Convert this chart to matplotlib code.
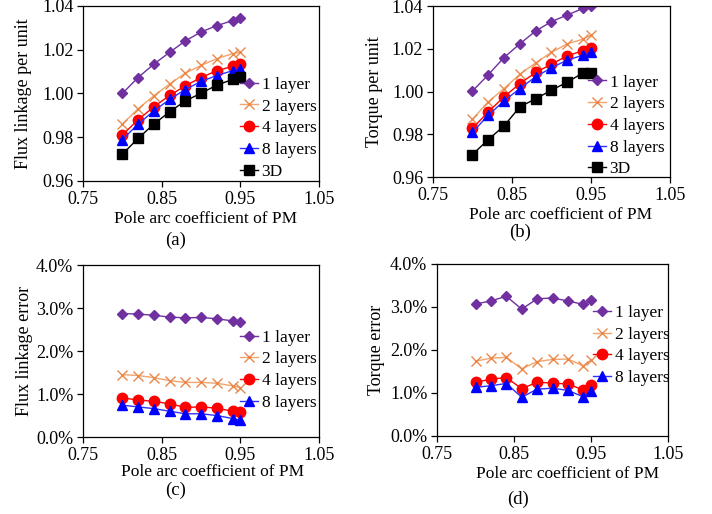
import matplotlib
matplotlib.use("Agg")
import matplotlib.pyplot as plt
from matplotlib.ticker import FuncFormatter

plt.rcParams['font.family'] = ['Liberation Serif', 'DejaVu Serif']
plt.rcParams['font.size'] = 12.5

# pole arc coefficient
x = [0.80, 0.82, 0.84, 0.86, 0.88, 0.90, 0.92, 0.94, 0.95]

# (a) flux linkage per unit
flux_1 = [1.0000, 1.0073, 1.0134, 1.0188, 1.0240, 1.0281, 1.0310, 1.0333, 1.0345]
flux_2 = [0.9860, 0.9930, 0.9989, 1.0043, 1.0093, 1.0128, 1.0159, 1.0182, 1.0188]
flux_4 = [0.9810, 0.9880, 0.9939, 0.9991, 1.0035, 1.0073, 1.0104, 1.0124, 1.0133]
flux_8 = [0.9789, 0.9860, 0.9920, 0.9973, 1.0018, 1.0055, 1.0082, 1.0104, 1.0111]
flux_3d = [0.9722, 0.9795, 0.9860, 0.9916, 0.9966, 1.0001, 1.0038, 1.0064, 1.0075]

# (b) torque per unit
torq_1 = [1.0002, 1.0078, 1.0159, 1.0223, 1.0283, 1.0327, 1.0358, 1.0389, 1.0400]
torq_2 = [0.9870, 0.9952, 1.0014, 1.0081, 1.0134, 1.0183, 1.0223, 1.0245, 1.0264]
torq_4 = [0.9827, 0.9905, 0.9975, 1.0037, 1.0089, 1.0128, 1.0167, 1.0191, 1.0202]
torq_8 = [0.9809, 0.9889, 0.9956, 1.0014, 1.0069, 1.0111, 1.0147, 1.0170, 1.0183]
torq_3d = [0.9705, 0.9775, 0.9839, 0.9928, 0.9966, 1.0006, 1.0044, 1.0087, 1.0087]

# (c) flux linkage error (%)
ferr_1 = [2.87, 2.86, 2.83, 2.79, 2.77, 2.78, 2.75, 2.70, 2.68]
ferr_2 = [1.45, 1.43, 1.38, 1.31, 1.27, 1.27, 1.25, 1.19, 1.15]
ferr_4 = [0.91, 0.86, 0.83, 0.77, 0.69, 0.70, 0.67, 0.60, 0.57]
ferr_8 = [0.74, 0.70, 0.66, 0.60, 0.54, 0.54, 0.50, 0.43, 0.39]

# (d) torque error (%)
terr_1 = [3.07, 3.14, 3.25, 2.95, 3.19, 3.21, 3.14, 3.06, 3.17]
terr_2 = [1.74, 1.81, 1.83, 1.56, 1.73, 1.78, 1.79, 1.63, 1.77]
terr_4 = [1.25, 1.32, 1.36, 1.10, 1.25, 1.23, 1.21, 1.07, 1.18]
terr_8 = [1.13, 1.17, 1.22, 0.90, 1.09, 1.11, 1.06, 0.91, 1.04]

labels = ['1 layer', '2 layers', '4 layers', '8 layers', '3D']
styles = [
    dict(color='#7030A0', marker='D', ms=5, mfc='#7030A0', mec='#7030A0'),
    dict(color='#F4A46C', marker='x', ms=7, mew=1.0, mec='#E8884A'),
    dict(color='#FF0000', marker='o', ms=7.5, mfc='#FF0000', mec='#FF0000'),
    dict(color='#3030FF', marker='^', ms=7, mfc='#0000FF', mec='#0000FF'),
    dict(color='#000000', marker='s', ms=7, mfc='#000000', mec='#000000'),
]

fig = plt.figure(figsize=(7.12, 5.14), dpi=100)
axa = fig.add_axes([0.1166, 0.6479, 0.3315, 0.3405])
axb = fig.add_axes([0.608, 0.6556, 0.333, 0.3327])
axc = fig.add_axes([0.1166, 0.1498, 0.3315, 0.3346])
axd = fig.add_axes([0.6138, 0.1518, 0.3244, 0.3346])

pct = FuncFormatter(lambda v, p: '%.1f%%' % v)

# ax, series, ylabel, ylim, step, caption, caption pos, xlabel pos, ylabel x, legend anchor
panels = [
    (axa, [flux_1, flux_2, flux_4, flux_8, flux_3d], 'Flux linkage per unit', (0.96, 1.04), 0.02,
     '(a)', (0.246, 0.533), (0.52, -0.215), -0.254, (0.665, 0.596)),
    (axb, [torq_1, torq_2, torq_4, torq_8, torq_3d], 'Torque per unit', (0.96, 1.04), 0.02,
     '(b)', (0.730, 0.547), (0.54, -0.225), -0.245, (0.654, 0.60)),
    (axc, [ferr_1, ferr_2, ferr_4, ferr_8], 'Flux linkage error', (0.0, 4.0), 1.0,
     '(c)', (0.246, 0.046), (0.55, -0.203), -0.246, (0.665, 0.625)),
    (axd, [terr_1, terr_2, terr_4, terr_8], 'Torque error', (0.0, 4.0), 1.0,
     '(d)', (0.727, 0.029), (0.565, -0.222), -0.26, (0.675, 0.762)),
]

for ax, series, ylab, ylim, step, cap, cappos, xlpos, ylx, leg in panels:
    for ys, lab, st in zip(series, labels, styles):
        ax.plot(x, ys, lw=1.0, label=lab, **st)
    ax.set_xlim(0.75, 1.05)
    ax.set_xticks([0.75, 0.85, 0.95, 1.05])
    ax.set_ylim(*ylim)
    n = int(round((ylim[1] - ylim[0]) / step))
    ax.set_yticks([ylim[0] + i * step for i in range(n + 1)])
    if step == 1.0:
        ax.yaxis.set_major_formatter(pct)
    else:
        ax.yaxis.set_major_formatter(FuncFormatter(lambda v, p: '%.2f' % v))
    for s in ax.spines.values():
        s.set_linewidth(0.9)
    ax.tick_params(direction='out', length=4, width=0.9, labelsize=13, pad=3)
    ax.set_ylabel(ylab, fontsize=13)
    ax.yaxis.set_label_coords(ylx, 0.5)
    ax.yaxis.label.set_va('center')
    ax.set_xlabel('Pole arc coefficient of PM', fontsize=12.5)
    ax.xaxis.set_label_coords(xlpos[0], xlpos[1])
    ax.xaxis.label.set_va('center')
    fig.text(cappos[0], cappos[1], cap, ha='center', va='center', fontsize=13.5)
    ax.legend(loc='upper left', bbox_to_anchor=leg, frameon=False, borderaxespad=0,
              borderpad=0, handlelength=1.05, handletextpad=0.2, labelspacing=0.32,
              fontsize=12.5)

fig.savefig('out.png', dpi=100)
